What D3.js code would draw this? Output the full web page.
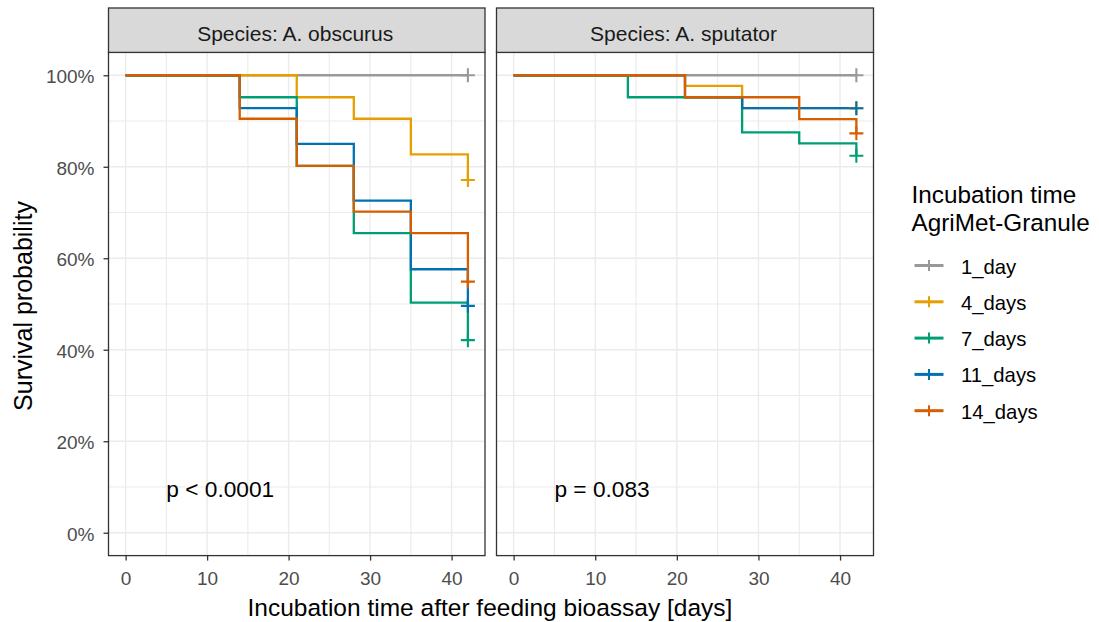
<!DOCTYPE html>
<html>
<head>
<meta charset="utf-8">
<script src="https://cdn.jsdelivr.net/npm/d3@7"></script>
<style>
  html, body { margin: 0; padding: 0; background: #fff; }
  svg { display: block; font-family: "Liberation Sans", Arial, sans-serif; }
</style>
</head>
<body>
<svg id="chart" width="1099" height="622"></svg>
<script>
// ---------------- data ----------------
const speciesLabels = ["Species: A. obscurus", "Species: A. sputator"];
const groups = ["1_day", "4_days", "7_days", "11_days", "14_days"];
const groupColors = ["#999999", "#E69F00", "#009E73", "#0072B2", "#D55E00"];
const times = [0, 14, 21, 28, 35, 42];

// A. obscurus survival at each time in `times`
const obscurus1day  = [1, 1, 1, 1, 1, 1];
const obscurus4days = [1, 1, 0.952, 0.905, 0.827, 0.771];
const obscurus7days = [1, 0.952, 0.802, 0.655, 0.503, 0.421];
const obscurus11days = [1, 0.928, 0.850, 0.726, 0.576, 0.496];
const obscurus14days = [1, 0.905, 0.802, 0.702, 0.655, 0.549];

// A. sputator survival at each time in `times`
const sputator1day  = [1, 1, 1, 1, 1, 1];
const sputator4days = [1, 1, 0.977, 0.928, 0.928, 0.928];
const sputator7days = [1, 0.952, 0.952, 0.875, 0.851, 0.824];
const sputator11days = [1, 1, 0.952, 0.928, 0.928, 0.928];
const sputator14days = [1, 1, 0.952, 0.952, 0.904, 0.873];

const pValues = ["p < 0.0001", "p = 0.083"];
const xTicks = [0, 10, 20, 30, 40];
const xMinor = [5, 15, 25, 35];
const yTicks = [0, 0.2, 0.4, 0.6, 0.8, 1.0];
const yMinor = [0.1, 0.3, 0.5, 0.7, 0.9];

const panelSeries = [
  [obscurus1day, obscurus4days, obscurus7days, obscurus11days, obscurus14days],
  [sputator1day, sputator4days, sputator7days, sputator11days, sputator14days]
];

// ---------------- layout ----------------
const svg = d3.select("#chart");
const panelsX = [[108.5, 485], [496.5, 873.5]];
const stripTop = 8, yTop = 52.4, yBot = 555.6;
const y = d3.scaleLinear().domain([-0.05, 1.05]).range([yBot, yTop]);
const fmtPct = d => Math.round(d * 100) + "%";

panelsX.forEach((px, i) => {
  const x = d3.scaleLinear().domain([-2.1, 44.1]).range(px);
  const g = svg.append("g");

  g.append("rect").attr("x", px[0]).attr("y", yTop)
    .attr("width", px[1] - px[0]).attr("height", yBot - yTop).attr("fill", "#fff");

  // grid
  const grid = g.append("g").attr("stroke", "#EBEBEB");
  grid.selectAll(".vmin").data(xMinor).join("line")
    .attr("x1", d => x(d)).attr("x2", d => x(d)).attr("y1", yTop).attr("y2", yBot)
    .attr("stroke-width", 1.1);
  grid.selectAll(".hmin").data(yMinor).join("line")
    .attr("y1", d => y(d)).attr("y2", d => y(d)).attr("x1", px[0]).attr("x2", px[1])
    .attr("stroke-width", 1.1);
  grid.selectAll(".vmaj").data(xTicks).join("line")
    .attr("x1", d => x(d)).attr("x2", d => x(d)).attr("y1", yTop).attr("y2", yBot)
    .attr("stroke-width", 1.4);
  grid.selectAll(".hmaj").data(yTicks).join("line")
    .attr("y1", d => y(d)).attr("y2", d => y(d)).attr("x1", px[0]).attr("x2", px[1])
    .attr("stroke-width", 1.4);

  // survival curves
  const line = d3.line().x(d => x(d[0])).y(d => y(d[1])).curve(d3.curveStepAfter);
  panelSeries[i].forEach((vals, k) => {
    const pts = times.map((t, j) => [t, vals[j]]);
    g.append("path").attr("d", line(pts)).attr("fill", "none")
      .attr("stroke", groupColors[k]).attr("stroke-width", 2.3);
  });
  // censor marks
  panelSeries[i].forEach((vals, k) => {
    const cx = x(times[times.length - 1]), cy = y(vals[vals.length - 1]);
    g.append("path").attr("d", `M${cx - 7},${cy}h14M${cx},${cy - 7}v14`)
      .attr("stroke", groupColors[k]).attr("stroke-width", 2.1).attr("fill", "none");
  });

  // p-value
  g.append("text").attr("x", x(5)).attr("y", y(0.10)).attr("dy", "0.42em")
    .attr("font-size", 22.7).attr("fill", "#000").text(pValues[i]);

  // border
  g.append("rect").attr("x", px[0]).attr("y", yTop)
    .attr("width", px[1] - px[0]).attr("height", yBot - yTop)
    .attr("fill", "none").attr("stroke", "#333333").attr("stroke-width", 1.3);

  // strip
  g.append("rect").attr("x", px[0]).attr("y", stripTop)
    .attr("width", px[1] - px[0]).attr("height", yTop - stripTop)
    .attr("fill", "#D9D9D9").attr("stroke", "#333333").attr("stroke-width", 1.3);
  g.append("text").attr("x", (px[0] + px[1]) / 2 - 1.5).attr("y", 40.5)
    .attr("text-anchor", "middle").attr("font-size", 21).attr("fill", "#1A1A1A")
    .text(speciesLabels[i]);

  // x axis
  const xa = g.append("g").attr("transform", `translate(0,${yBot})`)
    .call(d3.axisBottom(x).tickValues(xTicks).tickSize(5).tickPadding(11));
  xa.select(".domain").remove();
  xa.selectAll(".tick line").attr("stroke", "#333333").attr("stroke-width", 1.3);
  xa.selectAll(".tick text").attr("fill", "#4D4D4D").attr("font-size", 19)
    .attr("font-family", "Liberation Sans, Arial, sans-serif");

  if (i === 0) {
    const ya = g.append("g").attr("transform", `translate(${px[0]},0)`)
      .call(d3.axisLeft(y).tickValues(yTicks).tickFormat(fmtPct).tickSize(5).tickPadding(9));
    ya.select(".domain").remove();
    ya.selectAll(".tick line").attr("stroke", "#333333").attr("stroke-width", 1.3);
    ya.selectAll(".tick text").attr("fill", "#4D4D4D").attr("font-size", 19)
      .attr("dy", "0.4em").attr("font-family", "Liberation Sans, Arial, sans-serif");
  }
});

// axis titles
svg.append("text").attr("x", 490).attr("y", 616).attr("text-anchor", "middle")
  .attr("font-size", 24.5).attr("fill", "#000")
  .text("Incubation time after feeding bioassay [days]");
svg.append("text").attr("transform", "translate(32,306) rotate(-90)")
  .attr("text-anchor", "middle").attr("font-size", 25).attr("fill", "#000")
  .text("Survival probability");

// legend
const legendTitle = ["Incubation time", "AgriMet-Granule"];
const lg = svg.append("g");
legendTitle.forEach((t, j) => {
  lg.append("text").attr("x", 911.5).attr("y", 203.3 + j * 27.4)
    .attr("font-size", 24.3).attr("fill", "#000").text(t);
});
groups.forEach((gname, k) => {
  const cy = 265.5 + k * 36.3;
  lg.append("line").attr("x1", 914.5).attr("x2", 943.5).attr("y1", cy).attr("y2", cy)
    .attr("stroke", groupColors[k]).attr("stroke-width", 3);
  lg.append("line").attr("x1", 929).attr("x2", 929).attr("y1", cy - 5.5).attr("y2", cy + 5.5)
    .attr("stroke", groupColors[k]).attr("stroke-width", 2);
  lg.append("text").attr("x", 961).attr("y", cy + 8)
    .attr("font-size", 20.3).attr("fill", "#000").text(gname);
});
</script>
</body>
</html>
